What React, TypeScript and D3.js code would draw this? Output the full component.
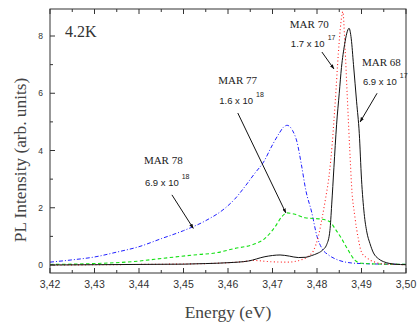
import * as d3 from 'd3';

// MAR 68 (solid black)
const e68 = [3.42, 3.43, 3.44, 3.45, 3.455, 3.46, 3.4646, 3.4683, 3.4717, 3.4738, 3.4758, 3.4775, 3.4788, 3.48, 3.4811, 3.4822, 3.4829, 3.4833, 3.4838, 3.4844, 3.485, 3.4855, 3.4862, 3.4867, 3.4872, 3.4877, 3.4882, 3.4889, 3.4895, 3.49, 3.4906, 3.4912, 3.4919, 3.4927, 3.4938, 3.4949, 3.4975, 3.5];
const v68 = [0, 0.01, 0.02, 0.03, 0.05, 0.08, 0.14, 0.29, 0.35, 0.31, 0.26, 0.27, 0.33, 0.4, 0.5, 0.72, 1.2, 2.1, 3.4, 4.9, 6.0, 6.9, 7.7, 8.1, 8.27, 7.9, 7.0, 5.7, 4.6, 3.0, 1.8, 1.15, 0.75, 0.42, 0.22, 0.12, 0.03, 0.01];

// MAR 70 (dotted red)
const e70 = [3.42, 3.44, 3.455, 3.46, 3.4635, 3.4657, 3.469, 3.4735, 3.4762, 3.478, 3.4792, 3.4803, 3.4811, 3.4819, 3.4827, 3.4834, 3.4841, 3.4848, 3.4854, 3.4858, 3.4863, 3.4868, 3.4874, 3.4878, 3.4885, 3.4893, 3.49, 3.4912, 3.493, 3.495, 3.5];
const v70 = [0, 0.02, 0.05, 0.08, 0.12, 0.16, 0.12, 0.1, 0.17, 0.3, 0.5, 1.0, 1.6, 2.3, 3.1, 4.2, 5.7, 7.4, 8.5, 8.85, 7.6, 5.9, 3.9, 2.7, 1.7, 0.9, 0.45, 0.25, 0.1, 0.04, 0.01];

// MAR 77 (dashed green)
const e77 = [3.42, 3.43, 3.4387, 3.4463, 3.4537, 3.4571, 3.4616, 3.4653, 3.4683, 3.4706, 3.4721, 3.4732, 3.4751, 3.4773, 3.4811, 3.4829, 3.484, 3.4855, 3.487, 3.4885, 3.49, 3.495, 3.5];
const v77 = [0.02, 0.05, 0.12, 0.25, 0.37, 0.42, 0.58, 0.7, 0.93, 1.34, 1.69, 1.82, 1.77, 1.65, 1.6, 1.51, 1.28, 0.93, 0.52, 0.17, 0.06, 0.03, 0.02];

// MAR 78 (dash-dot blue)
const e78 = [3.42, 3.425, 3.43, 3.435, 3.44, 3.445, 3.45, 3.455, 3.4593, 3.4615, 3.4638, 3.466, 3.468, 3.47, 3.4715, 3.4725, 3.4733, 3.4745, 3.4755, 3.4765, 3.4775, 3.4788, 3.48, 3.4811, 3.4826, 3.4848, 3.4878, 3.49, 3.495, 3.5];
const v78 = [0.1, 0.18, 0.28, 0.45, 0.64, 0.92, 1.2, 1.55, 1.98, 2.3, 2.74, 3.2, 3.6, 4.2, 4.6, 4.82, 4.88, 4.7, 4.3, 3.5, 2.6, 1.85, 1.0, 0.58, 0.35, 0.17, 0.07, 0.05, 0.03, 0.02];

const xTicks = [3.42, 3.43, 3.44, 3.45, 3.46, 3.47, 3.48, 3.49, 3.5];
const xMinor = [3.425, 3.435, 3.445, 3.455, 3.465, 3.475, 3.485, 3.495];
const yTicks = [0, 2, 4, 6, 8];
const yMinor = [1, 3, 5, 7];

// annotations: label, concentration, exponent, text anchor (E, v), gap to second line, arrow start and tip (E, v)
const notes = [
  { name: 'MAR 70', conc: '1.7 x 10', exp: '17', at: [3.4739, 8.28], gap: 19, from: [3.4811, 7.44], to: [3.4838, 6.85] },
  { name: 'MAR 68', conc: '6.9 x 10', exp: '17', at: [3.4901, 6.95], gap: 19, from: [3.4935, 6.0], to: [3.4897, 5.0] },
  { name: 'MAR 77', conc: '1.6 x 10', exp: '18', at: [3.4578, 6.32], gap: 20, from: [3.4622, 5.31], to: [3.473, 1.82] },
  { name: 'MAR 78', conc: '6.9  x 10', exp: '18', at: [3.4411, 3.53], gap: 22, from: [3.4474, 2.45], to: [3.4522, 1.28] },
];

const W = 419;
const H = 330;
const L = 50, R = 406, T = 9, B = 273;

export default function App() {
  const x = d3.scaleLinear().domain([3.42, 3.5]).range([L, R]);
  const y = d3.scaleLinear().domain([0, 8]).range([265, 36]);

  const line = (es: number[], vs: number[]) =>
    d3.line<number>()
      .x((_, i) => x(es[i]))
      .y((_, i) => y(vs[i]))
      .curve(d3.curveMonotoneX)(vs) as string;

  const series = [
    { e: e78, v: v78, color: '#1f1fff', dash: '4,2,1,2', w: 1 },
    { e: e77, v: v77, color: '#14e014', dash: '3.5,2.5', w: 1.1 },
    { e: e70, v: v70, color: '#ff2020', dash: '1,2.5', w: 1.1 },
    { e: e68, v: v68, color: '#111', dash: null, w: 1 },
  ];

  const sans = "'Liberation Sans', Arial, sans-serif";
  const serif = "'Liberation Serif', 'Times New Roman', serif";

  return (
    <svg width={W} height={H} style={{ position: 'absolute', left: 0, top: 0, background: '#fff' }}>
      <defs>
        <clipPath id="plot">
          <rect x={L} y={T} width={R - L} height={B - T} />
        </clipPath>
        <marker id="head" viewBox="0 0 10 10" refX="9" refY="5" markerWidth="5" markerHeight="5" orient="auto">
          <path d="M0,1.5 L10,5 L0,8.5 z" fill="#111" />
        </marker>
      </defs>

      <g clipPath="url(#plot)">
        {series.map((s, i) => (
          <path key={i} d={line(s.e, s.v)} fill="none" stroke={s.color}
            strokeWidth={s.w} strokeDasharray={s.dash ?? undefined} />
        ))}
      </g>

      {/* frame */}
      <rect x={L} y={T} width={R - L} height={B - T} fill="none" stroke="#333" strokeWidth={1} />

      {/* x ticks, bottom and top, pointing inward */}
      {xTicks.map(t => (
        <g key={'x' + t}>
          <line x1={x(t)} x2={x(t)} y1={B} y2={B - 5} stroke="#333" />
          <line x1={x(t)} x2={x(t)} y1={T} y2={T + 5} stroke="#333" />
          <text x={x(t)} y={288} textAnchor="middle" fontFamily={sans} fontSize={10.5} fill="#333">
            {t.toFixed(2).replace('.', ',')}
          </text>
        </g>
      ))}
      {xMinor.map(t => (
        <g key={'xm' + t}>
          <line x1={x(t)} x2={x(t)} y1={B} y2={B - 3} stroke="#333" />
          <line x1={x(t)} x2={x(t)} y1={T} y2={T + 3} stroke="#333" />
        </g>
      ))}

      {/* y ticks */}
      {yTicks.map(t => (
        <g key={'y' + t}>
          <line x1={L} x2={L + 5} y1={y(t)} y2={y(t)} stroke="#333" />
          <text x={43} y={y(t) + 3} textAnchor="end" fontFamily={sans} fontSize={8.5} fill="#333">{t}</text>
        </g>
      ))}
      {yMinor.map(t => (
        <line key={'ym' + t} x1={L} x2={L + 3} y1={y(t)} y2={y(t)} stroke="#333" />
      ))}

      {/* axis titles */}
      <text x={228} y={318} textAnchor="middle" fontFamily={serif} fontSize={17.5} fill="#444">Energy (eV)</text>
      <text transform="translate(26,160) rotate(-90)" textAnchor="middle" fontFamily={serif} fontSize={17.3} fill="#444">
        PL Intensity (arb. units)
      </text>

      <text x={65} y={37} fontFamily={serif} fontSize={16} fill="#333">4.2K</text>

      {/* annotations */}
      {notes.map(n => (
        <g key={n.name}>
          <text x={x(n.at[0])} y={y(n.at[1])} fontFamily={serif} fontSize={11} fill="#222">{n.name}</text>
          <text x={x(n.at[0]) + 1} y={y(n.at[1]) + n.gap} fontFamily={sans} fontSize={9.5} fill="#222">
            {n.conc}
            <tspan dx={3} dy={-7} fontSize={7}>{n.exp}</tspan>
          </text>
          <line x1={x(n.from[0])} y1={y(n.from[1])} x2={x(n.to[0])} y2={y(n.to[1])}
            stroke="#111" strokeWidth={1} markerEnd="url(#head)" />
        </g>
      ))}
    </svg>
  );
}
